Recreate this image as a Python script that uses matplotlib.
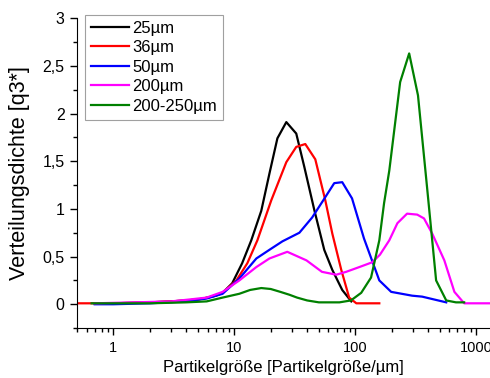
import matplotlib
matplotlib.use("Agg")
import matplotlib.pyplot as plt
from matplotlib.ticker import FixedLocator, FuncFormatter, MultipleLocator

plt.rcParams['font.family'] = ['Liberation Sans', 'DejaVu Sans']

# particle size distributions
x_25 = [0.7, 1, 2, 3, 4, 5, 6, 7, 8, 9.6, 11.6, 13.8, 16.7, 19.5, 22.7, 26.9, 32.5, 37.9, 45.8, 55.4, 64.6, 78, 92.7]
y_25 = [0.01, 0.01, 0.02, 0.03, 0.04, 0.05, 0.07, 0.09, 0.12, 0.22, 0.43, 0.67, 0.98, 1.37, 1.74, 1.91, 1.79, 1.44, 0.99, 0.57, 0.36, 0.15, 0.03]

x_36 = [0.5, 0.7, 1, 2, 3, 4, 5, 6, 7, 8, 10.4, 12.8, 15.5, 20.2, 26.9, 32.5, 38.6, 46.7, 56.5, 64.6, 76.6, 89, 102, 158]
y_36 = [0.01, 0.01, 0.01, 0.02, 0.03, 0.04, 0.05, 0.07, 0.09, 0.12, 0.25, 0.43, 0.67, 1.09, 1.49, 1.65, 1.68, 1.52, 1.09, 0.74, 0.36, 0.07, 0.01, 0.01]

x_50 = [0.7, 1, 2, 4, 5.9, 8, 11, 15.2, 20, 25, 34.5, 44, 55, 67, 78, 94, 118, 158, 198, 295, 357, 565]
y_50 = [0.0, 0.0, 0.01, 0.03, 0.06, 0.11, 0.27, 0.48, 0.58, 0.66, 0.75, 0.91, 1.1, 1.27, 1.28, 1.11, 0.69, 0.25, 0.13, 0.09, 0.08, 0.02]

x_200 = [0.7, 1.5, 3, 4.25, 5.9, 8, 11, 15.2, 19.5, 27.4, 39.5, 53, 69.6, 84, 108, 138, 160, 191, 223, 268, 325, 370, 433, 545, 660, 795, 1300]
y_200 = [0.01, 0.02, 0.03, 0.05, 0.07, 0.13, 0.25, 0.39, 0.48, 0.55, 0.46, 0.34, 0.31, 0.34, 0.39, 0.44, 0.52, 0.67, 0.85, 0.95, 0.94, 0.9, 0.74, 0.46, 0.13, 0.01, 0.01]

x_250 = [0.66, 1, 2, 4, 5.9, 8, 11, 13.5, 16.7, 20, 24, 28.5, 33, 40, 50, 74, 92, 112, 135, 158, 173, 191, 235, 279, 330, 394, 466, 565, 680, 795]
y_250 = [0.01, 0.01, 0.01, 0.02, 0.03, 0.07, 0.11, 0.15, 0.17, 0.16, 0.13, 0.1, 0.07, 0.04, 0.02, 0.02, 0.04, 0.12, 0.28, 0.67, 1.06, 1.4, 2.33, 2.63, 2.19, 1.2, 0.25, 0.04, 0.02, 0.02]

series = [
    (x_25, y_25, '25µm', 'black'),
    (x_36, y_36, '36µm', '#ff0000'),
    (x_50, y_50, '50µm', '#0000ff'),
    (x_200, y_200, '200µm', '#ff00ff'),
    (x_250, y_250, '200-250µm', '#008000'),
]

fig = plt.figure(figsize=(4.9, 3.78), dpi=100)
ax = fig.add_axes([77 / 490, 0.132, 1 - 77 / 490, 0.82])

for xs, ys, label, color in series:
    ax.plot(xs, ys, color=color, lw=1.6, label=label)

ax.set_xscale('log')
ax.set_xlim(0.5, 1300)
ax.set_ylim(-0.25, 3)

ax.xaxis.set_major_locator(FixedLocator([1, 10, 100, 1000]))
ax.xaxis.set_minor_locator(FixedLocator([m * 10.0 ** e for e in range(-1, 4) for m in range(2, 10)]))
ax.xaxis.set_major_formatter(FuncFormatter(lambda v, p: '%g' % v))
ax.xaxis.set_minor_formatter(FuncFormatter(lambda v, p: ''))
ax.yaxis.set_major_locator(MultipleLocator(0.5))
ax.yaxis.set_minor_locator(MultipleLocator(0.25))
ax.yaxis.set_major_formatter(FuncFormatter(lambda v, p: ('%g' % v).replace('.', ',')))

for side in ['top', 'right']:
    ax.spines[side].set_visible(False)
ax.tick_params(which='major', direction='out', length=5, width=1, pad=4)
ax.tick_params(axis='x', which='major', labelsize=10.5, pad=4)
ax.tick_params(axis='y', which='major', labelsize=11.5)
ax.tick_params(which='minor', direction='out', length=3, width=1)

ax.set_xlabel('Partikelgröße [Partikelgröße/µm]', fontsize=12, labelpad=4)
ax.set_ylabel('Verteilungsdichte [q3*]', fontsize=15.5, labelpad=9)

leg = ax.legend(loc='upper left', bbox_to_anchor=(85 / 490, 1 - 15 / 378),
                bbox_transform=fig.transFigure, borderaxespad=0, fontsize=12,
                handlelength=2.3, handletextpad=0.2, labelspacing=0.27,
                borderpad=0.35, fancybox=False, framealpha=1)
leg.get_frame().set_edgecolor('#a0a0a0')
leg.get_frame().set_linewidth(0.8)

fig.savefig('out.png', dpi=100)
